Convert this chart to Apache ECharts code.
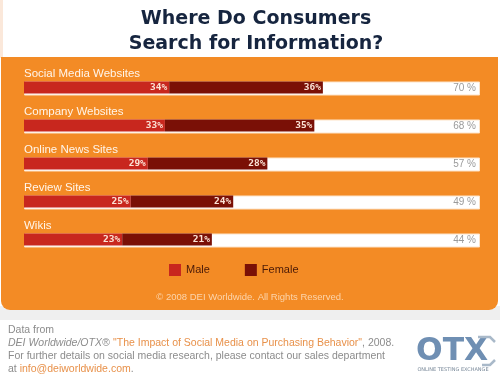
<!DOCTYPE html>
<html>
<head>
<meta charset="utf-8">
<script src="https://cdn.jsdelivr.net/npm/echarts@6/dist/echarts.min.js"></script>
<style>html,body{margin:0;padding:0;background:#fff}#c{width:500px;height:380px}</style>
</head>
<body>
<div id="c"></div>
<script>
var categories = ['Social Media Websites', 'Company Websites', 'Online News Sites', 'Review Sites', 'Wikis'];
var maleValues = [34, 33, 29, 25, 23];
var femaleValues = [36, 35, 28, 24, 21];
var totalValues = [70, 68, 57, 49, 44];
var seriesNames = ['Male', 'Female'];

var xMax = 106.8;
var chart = echarts.init(document.getElementById('c'), null, {renderer: 'canvas'});
var option = {
  animation: false,
  backgroundColor: '#ffffff',
  graphic: [
    {type: 'rect', z: -10, shape: {x: 0, y: 0, width: 3, height: 58}, style: {fill: '#fbe8da'}},
    {type: 'rect', z: -10, shape: {x: 0, y: 306, width: 500, height: 14}, style: {fill: '#efefef'}},
    {type: 'rect', z: -9, shape: {x: 1, y: 57, width: 497, height: 253, r: [0, 0, 9, 9]}, style: {fill: '#f38b25'}},
    {type: 'text', x: 256, y: 7, style: {text: 'Where Do Consumers\nSearch for Information?', font: 'bold 19px "DejaVu Sans"', fill: '#16253f', align: 'center', verticalAlign: 'top', lineHeight: 25}},
    {type: 'text', x: 250, y: 297, style: {text: '\u00a9 2008 DEI Worldwide. All Rights Reserved.', font: '9.5px "Liberation Sans"', fill: '#fcd5ac', align: 'center', verticalAlign: 'middle'}},
    {type: 'text', left: 8, top: 325, style: {
      text: '{g|Data from}\n{i|DEI Worldwide/OTX\u00ae} {o|"The Impact of Social Media on Purchasing Behavior"}{g|, 2008.}\n{g|For further details on social media research, please contact our sales department}\n{g|at }{o|info@deiworldwide.com}{g|.}',
      rich: {
        g: {fill: '#8c8c8c', font: '10.5px "Liberation Sans"', lineHeight: 12.8},
        i: {fill: '#8c8c8c', font: 'italic 10.5px "Liberation Sans"', lineHeight: 12.8},
        o: {fill: '#e8914a', font: '10.5px "Liberation Sans"', lineHeight: 12.8}
      }
    }},
    {type: 'text', x: 416, y: 352, style: {text: 'OTX', font: 'bold 32px "DejaVu Sans"', fill: '#6f8fb3', verticalAlign: 'middle'}, scaleX: 0.98},
    {type: 'polyline', shape: {points: [[478, 337], [490, 337], [495, 342]]}, style: {stroke: '#a9b9c9', lineWidth: 2.5, fill: null}},
    {type: 'polyline', shape: {points: [[482, 365], [490, 365], [495, 360]]}, style: {stroke: '#a9b9c9', lineWidth: 2.5, fill: null}},
    {type: 'text', x: 453, y: 370, style: {text: 'ONLINE TESTING EXCHANGE', font: '5px "DejaVu Sans"', fill: '#7a8a9a', align: 'center', verticalAlign: 'middle'}}
  ],
  legend: {
    data: seriesNames,
    left: 169, top: 264, padding: 0,
    itemWidth: 12, itemHeight: 12, itemGap: 35,
    icon: 'rect',
    textStyle: {color: '#4a1a08', fontSize: 11, fontFamily: 'Liberation Sans'}
  },
  grid: {left: 24, right: 20, top: 68.5, height: 190, containLabel: false},
  xAxis: {type: 'value', min: 0, max: xMax, show: false},
  yAxis: {
    type: 'category', data: categories, inverse: true,
    axisLine: {show: false}, axisTick: {show: false},
    axisLabel: {inside: true, margin: 0, align: 'left', verticalAlign: 'bottom', padding: [0, 0, 8, 0],
      color: '#fff5ea', fontSize: 11.5, fontFamily: 'Liberation Sans'}
  },
  series: [
    {
      name: 'track', type: 'bar', barWidth: 14, barGap: '-100%', silent: true,
      data: totalValues.map(function () { return xMax; }),
      itemStyle: {color: '#ffffff', borderColor: '#fde3c8', borderWidth: 1},
      label: {show: true, position: 'insideRight', distance: 4,
        formatter: function (p) { return totalValues[p.dataIndex] + ' %'; },
        color: '#9a9a9a', fontSize: 10, fontFamily: 'Liberation Sans'}
    },
    {
      name: 'Male', type: 'bar', stack: 'g', barWidth: 12, barGap: '-100%',
      data: maleValues, itemStyle: {color: '#c8271e'},
      label: {show: true, position: 'insideRight', distance: 2, formatter: '{c}%',
        color: '#fbe3d6', fontSize: 9.5, fontWeight: 'bold', fontFamily: 'DejaVu Sans Mono'}
    },
    {
      name: 'Female', type: 'bar', stack: 'g', barWidth: 12, barGap: '-100%',
      data: femaleValues, itemStyle: {color: '#7a1006'},
      label: {show: true, position: 'insideRight', distance: 2, formatter: '{c}%',
        color: '#fbe3d6', fontSize: 9.5, fontWeight: 'bold', fontFamily: 'DejaVu Sans Mono'}
    }
  ]
};
chart.setOption(option);
</script>
</body>
</html>
